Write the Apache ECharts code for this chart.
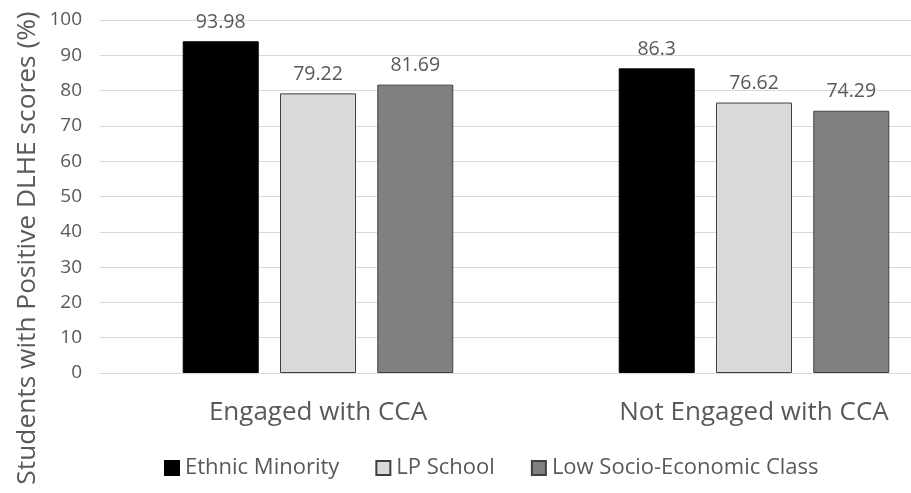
<!DOCTYPE html>
<html>
<head>
<meta charset="utf-8">
<script src="https://cdn.jsdelivr.net/npm/echarts@6/dist/echarts.min.js"></script>
<style>
  html, body { margin: 0; padding: 0; background: #fff; }
  #chart { width: 911px; height: 493px; }
</style>
</head>
<body>
<div id="chart"></div>
<script>
// Share of students with positive DLHE outcomes, by CCA engagement
const categories = ['Engaged with CCA', 'Not Engaged with CCA'];
const seriesNames = ['Ethnic Minority', 'LP School', 'Low Socio-Economic Class'];
const ethnicMinority = [93.98, 86.3];
const lpSchool = [79.22, 76.62];
const lowSEC = [81.69, 74.29];
const yTitle = 'Students with Positive DLHE scores (%)';

const FONT = '"Open Sans", "DejaVu Sans", sans-serif';
const TEXT = '#595959';

const fills = ['#000000', '#d9d9d9', '#808080'];
const values = [ethnicMinority, lpSchool, lowSEC];

const chart = echarts.init(document.getElementById('chart'), null, { renderer: 'canvas' });

chart.setOption({
  animation: false,
  textStyle: { fontFamily: FONT },
  // plot area runs past the right edge of the canvas
  grid: { left: 100, top: 20, width: 872, height: 353, containLabel: false, outerBoundsMode: 'none' },
  // y-axis title is centred on the whole chart height, not the plot area
  graphic: [{
    type: 'text',
    x: 28,
    y: 248,
    rotation: Math.PI / 2,
    style: {
      text: yTitle,
      fontFamily: FONT,
      fontSize: 26.3,
      fill: TEXT,
      align: 'center',
      verticalAlign: 'middle'
    }
  }],
  legend: {
    top: 452,
    left: 159,
    itemWidth: 14,
    itemHeight: 14,
    itemGap: 36,
    icon: 'rect',
    textStyle: { fontFamily: FONT, fontSize: 22, color: TEXT, padding: [0, 0, 0, 1] },
    data: seriesNames
  },
  xAxis: {
    type: 'category',
    data: categories,
    axisLine: { lineStyle: { color: '#d9d9d9', width: 1 } },
    axisTick: { show: false },
    axisLabel: { fontFamily: FONT, fontSize: 26, color: TEXT, margin: 27 }
  },
  yAxis: {
    type: 'value',
    min: 0,
    max: 100,
    interval: 10,
    axisLine: { show: false },
    axisTick: { show: false },
    axisLabel: { fontFamily: FONT, fontSize: 19, color: TEXT, margin: 18 },
    splitLine: { lineStyle: { color: '#d9d9d9', width: 1 } }
  },
  series: seriesNames.map((name, i) => ({
    name,
    type: 'bar',
    data: values[i],
    barWidth: 76,
    barGap: '28%',
    itemStyle: {
      color: fills[i],
      borderColor: i === 0 ? '#000000' : '#404040',
      borderWidth: 1
    },
    label: {
      show: true,
      position: 'top',
      distance: 9,
      fontFamily: FONT,
      fontSize: 19.5,
      color: TEXT
    }
  }))
});
</script>
</body>
</html>
